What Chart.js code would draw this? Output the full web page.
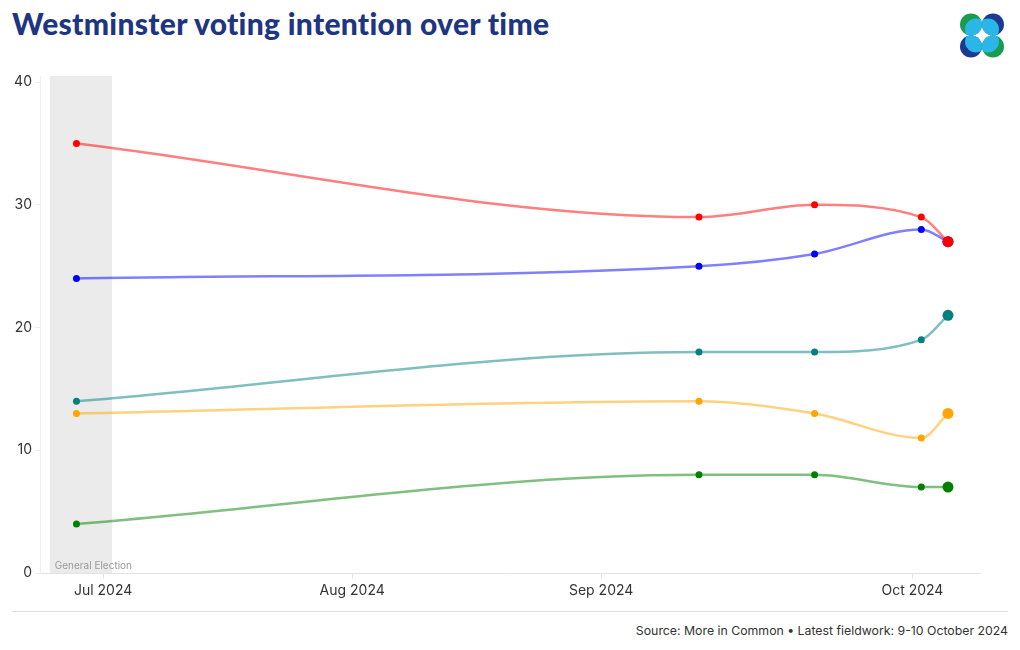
<!DOCTYPE html>
<html>
<head>
<meta charset="utf-8">
<script src="https://cdn.jsdelivr.net/npm/chart.js@4"></script>
<style>
    body { margin:0; background:#fff; width:1020px; height:650px; overflow:hidden; position:relative; font-family:Inter, sans-serif; }
    h1 { position:absolute; left:12px; top:5px; margin:0; font-family:Lato, sans-serif; font-weight:900; font-size:30px; color:#1e3581; letter-spacing:0.3px; }
    #logo { position:absolute; left:959px; top:13px; }
    #chartBox { position:absolute; left:0; top:61px; }
    .rule { position:absolute; left:12px; top:611px; width:996px; height:1px; background:#dcdcdc; }
    .source { position:absolute; right:12px; top:623px; font-size:12.3px; color:#333; }
</style>
</head>
<body>
<h1>Westminster voting intention over time</h1>
<svg id="logo" width="46" height="46" viewBox="0 0 46 46">
    <defs>
        <clipPath id="c1"><circle cx="12" cy="11.5" r="11"/></clipPath>
        <clipPath id="c2"><circle cx="34" cy="11.5" r="11"/></clipPath>
        <clipPath id="c3"><circle cx="12" cy="33.5" r="11"/></clipPath>
        <clipPath id="c4"><circle cx="34" cy="33.5" r="11"/></clipPath>
    </defs>
    <circle cx="12" cy="11.5" r="11" fill="#1a9b50"/>
    <circle cx="17" cy="16.5" r="11" fill="#2bb6e8" clip-path="url(#c1)"/>
    <circle cx="34" cy="11.5" r="11" fill="#1c3a91"/>
    <circle cx="29" cy="16.5" r="11" fill="#2bb6e8" clip-path="url(#c2)"/>
    <circle cx="12" cy="33.5" r="11" fill="#1c3a91"/>
    <circle cx="17" cy="28.5" r="11" fill="#2bb6e8" clip-path="url(#c3)"/>
    <circle cx="34" cy="33.5" r="11" fill="#1a9b50"/>
    <circle cx="29" cy="28.5" r="11" fill="#2bb6e8" clip-path="url(#c4)"/>
</svg>
<div id="chartBox"><canvas id="chart" width="1020" height="545"></canvas></div>
<div class="rule"></div>
<div class="source">Source: More in Common • Latest fieldwork: 9-10 October 2024</div>

<script>
// Poll fieldwork dates (end date)
const pollDates = ['2024-07-04', '2024-09-12', '2024-09-25', '2024-10-07', '2024-10-10'];

// Vote shares (%)
const labour       = [35, 29, 30, 29, 27];
const conservative = [24, 25, 26, 28, 27];
const reform       = [14, 18, 18, 19, 21];
const libDem       = [13, 14, 13, 11, 13];
const green        = [4, 8, 8, 7, 7];

// Axis ticks
const xTickDates  = ['2024-07-07', '2024-08-04', '2024-09-01', '2024-10-06'];
const xTickLabels = ['Jul 2024', 'Aug 2024', 'Sep 2024', 'Oct 2024'];
const yTicks = [0, 10, 20, 30, 40];

// General election shading
const electionBand = ['2024-07-01', '2024-07-08'];
const electionLabel = 'General Election';

// days since 1 Jul 2024
const dayOf = d => (Date.parse(d) - Date.parse('2024-07-01')) / 86400000;

const series = [
    { label: 'Labour',       data: labour,       color: '255,0,0' },
    { label: 'Conservative', data: conservative, color: '0,0,255' },
    { label: 'Reform UK',    data: reform,       color: '0,128,128' },
    { label: 'Lib Dem',      data: libDem,       color: '255,165,0' },
    { label: 'Green',        data: green,        color: '0,128,0' }
];

const lastIdx = pollDates.length - 1;

const datasets = series.map(s => ({
    label: s.label,
    data: s.data.map((v, i) => ({ x: dayOf(pollDates[i]), y: v })),
    borderColor: `rgba(${s.color},0.5)`,
    backgroundColor: `rgb(${s.color})`,
    pointBackgroundColor: `rgb(${s.color})`,
    pointBorderWidth: 0,
    pointRadius: ctx => ctx.dataIndex === lastIdx ? 5.5 : 3.5,
    borderWidth: 2.5,
    cubicInterpolationMode: 'monotone'
}));

// grey band + label behind the lines
const bandPlugin = {
    id: 'band',
    beforeDatasetsDraw(chart){
        const { ctx, chartArea, scales } = chart;
        const x0 = scales.x.getPixelForValue(dayOf(electionBand[0]));
        const x1 = scales.x.getPixelForValue(dayOf(electionBand[1]));
        ctx.save();
        ctx.fillStyle = '#ebebeb';
        ctx.fillRect(x0, chartArea.top, x1 - x0, chartArea.bottom - chartArea.top);
        ctx.fillStyle = '#999';
        ctx.font = '10px Inter';
        ctx.textBaseline = 'alphabetic';
        ctx.fillText(electionLabel, x0 + 5, chartArea.bottom - 4);
        ctx.restore();
    }
};

const tickFont = { family: 'Inter', size: 14 };

new Chart(document.getElementById('chart'), {
    type: 'line',
    data: { datasets },
    options: {
        responsive: false,
        animation: false,
        devicePixelRatio: 1,
        layout: { padding: { top: 15, right: 40, left: 0, bottom: 0 } },
        plugins: { legend: { display: false }, tooltip: { enabled: false } },
        scales: {
            x: {
                type: 'linear',
                min: -1.1,
                max: 104.6,
                afterBuildTicks: s => { s.ticks = xTickDates.map(d => ({ value: dayOf(d) })); },
                afterFit: s => { s.height = 33; },
                ticks: {
                    autoSkip: false, maxRotation: 0, color: '#333', font: tickFont, padding: 3,
                    callback: v => xTickLabels[xTickDates.findIndex(d => dayOf(d) === v)]
                },
                grid: { drawOnChartArea: false, tickLength: 6, color: '#e6e6e6' },
                border: { color: '#e3e3e3' }
            },
            y: {
                min: 0,
                max: 40.5,
                afterBuildTicks: s => { s.ticks = yTicks.map(v => ({ value: v })); },
                afterFit: s => { s.width = 40; },
                ticks: { color: '#333', font: tickFont, padding: 3 },
                grid: { drawOnChartArea: false, tickLength: 5, color: '#ececec' },
                border: { color: '#efefef' }
            }
        }
    },
    plugins: [bandPlugin]
});
</script>
</body>
</html>
